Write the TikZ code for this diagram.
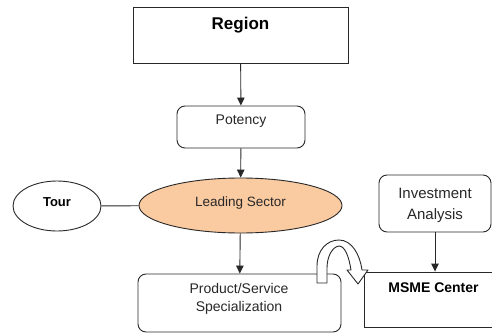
\documentclass[tikz,border=0pt]{standalone}
\usepackage{fontspec}
\setmainfont{Liberation Sans}
\usetikzlibrary{arrows.meta,shapes.geometric}
\definecolor{edge}{RGB}{40,40,40}
\definecolor{sectorfill}{RGB}{250,202,160}
\definecolor{txt}{RGB}{40,40,40}

\begin{document}
\begin{tikzpicture}[x=1pt,y=-1pt,
  box/.style={draw=edge, line width=0.9pt, inner sep=0pt, fill=white},
  rbox/.style={box, rounded corners=8pt},
  oval/.style={draw=edge, line width=0.9pt, ellipse, inner sep=0pt},
  link/.style={draw=edge, line width=0.9pt},
  flow/.style={link, -{Triangle[length=8pt,width=7.5pt]}},
  lbl/.style={text=txt, align=center, inner sep=0pt},
  bold/.style={text=black, inner sep=0pt, font=\bfseries},
]
\useasboundingbox (0,0) rectangle (492,334);

% boxes and ovals
\node[box, minimum width=215pt, minimum height=56pt] (region) at (240.5,35) {};
\node[bold, font=\bfseries\fontsize{17}{20}\selectfont] (regiontxt) at (240.5,25) {Region};

\node[rbox, minimum width=128pt, minimum height=42pt] (potency) at (241,127) {};
\node[lbl, font=\fontsize{14}{17}\selectfont] (potencytxt) at (241,121) {Potency};

\node[oval, fill=sectorfill, minimum width=203pt, minimum height=55pt] (sector) at (240.5,205.5) {};
\node[lbl, font=\fontsize{13.5}{16}\selectfont] (sectortxt) at (240.5,203) {Leading Sector};

\node[oval, fill=white, minimum width=88pt, minimum height=50pt] (tour) at (57,206) {};
\node[bold, font=\bfseries\fontsize{13}{16}\selectfont] (tourtxt) at (57,202) {Tour};

\node[rbox, minimum width=112pt, minimum height=57pt] (invest) at (435,203.5) {};
\node[lbl, font=\fontsize{15}{21}\selectfont] (investtxt) at (435,205) {Investment\\Analysis};

\node[rbox, minimum width=203pt, minimum height=58pt] (product) at (239.5,303) {};
\node[lbl, font=\fontsize{14}{18}\selectfont] (producttxt) at (239,299) {Product/Service\\Specialization};

\node[box, minimum width=140pt, minimum height=55pt] (msme) at (434,299.5) {};
\node[bold, font=\bfseries\fontsize{14}{17}\selectfont] (msmetxt) at (433.5,288) {MSME Center};

% connectors
\draw[flow] (region) -- (potency);
\draw[flow] (potency) -- (sector);
\draw[flow] (sector) -- (product);
\draw[link] (tour) -- (sector);
\draw[flow] (invest) -- (msme.north -| invest.south);

% curved block arrow from the specialization box over to the MSME center
\draw[edge, line width=0.9pt, fill=white, line join=round]
  (317,283) -- (317,266)
  .. controls (317,250) and (327,240) .. (339,240)
  .. controls (352,240) and (360,255) .. (362,270)
  -- (368,270) -- (358,284) -- (347,270) -- (351,270)
  .. controls (349,257) and (345,246) .. (339,246)
  .. controls (332,247) and (327,257) .. (327,268)
  -- (327,283) -- cycle;
\end{tikzpicture}
\end{document}
